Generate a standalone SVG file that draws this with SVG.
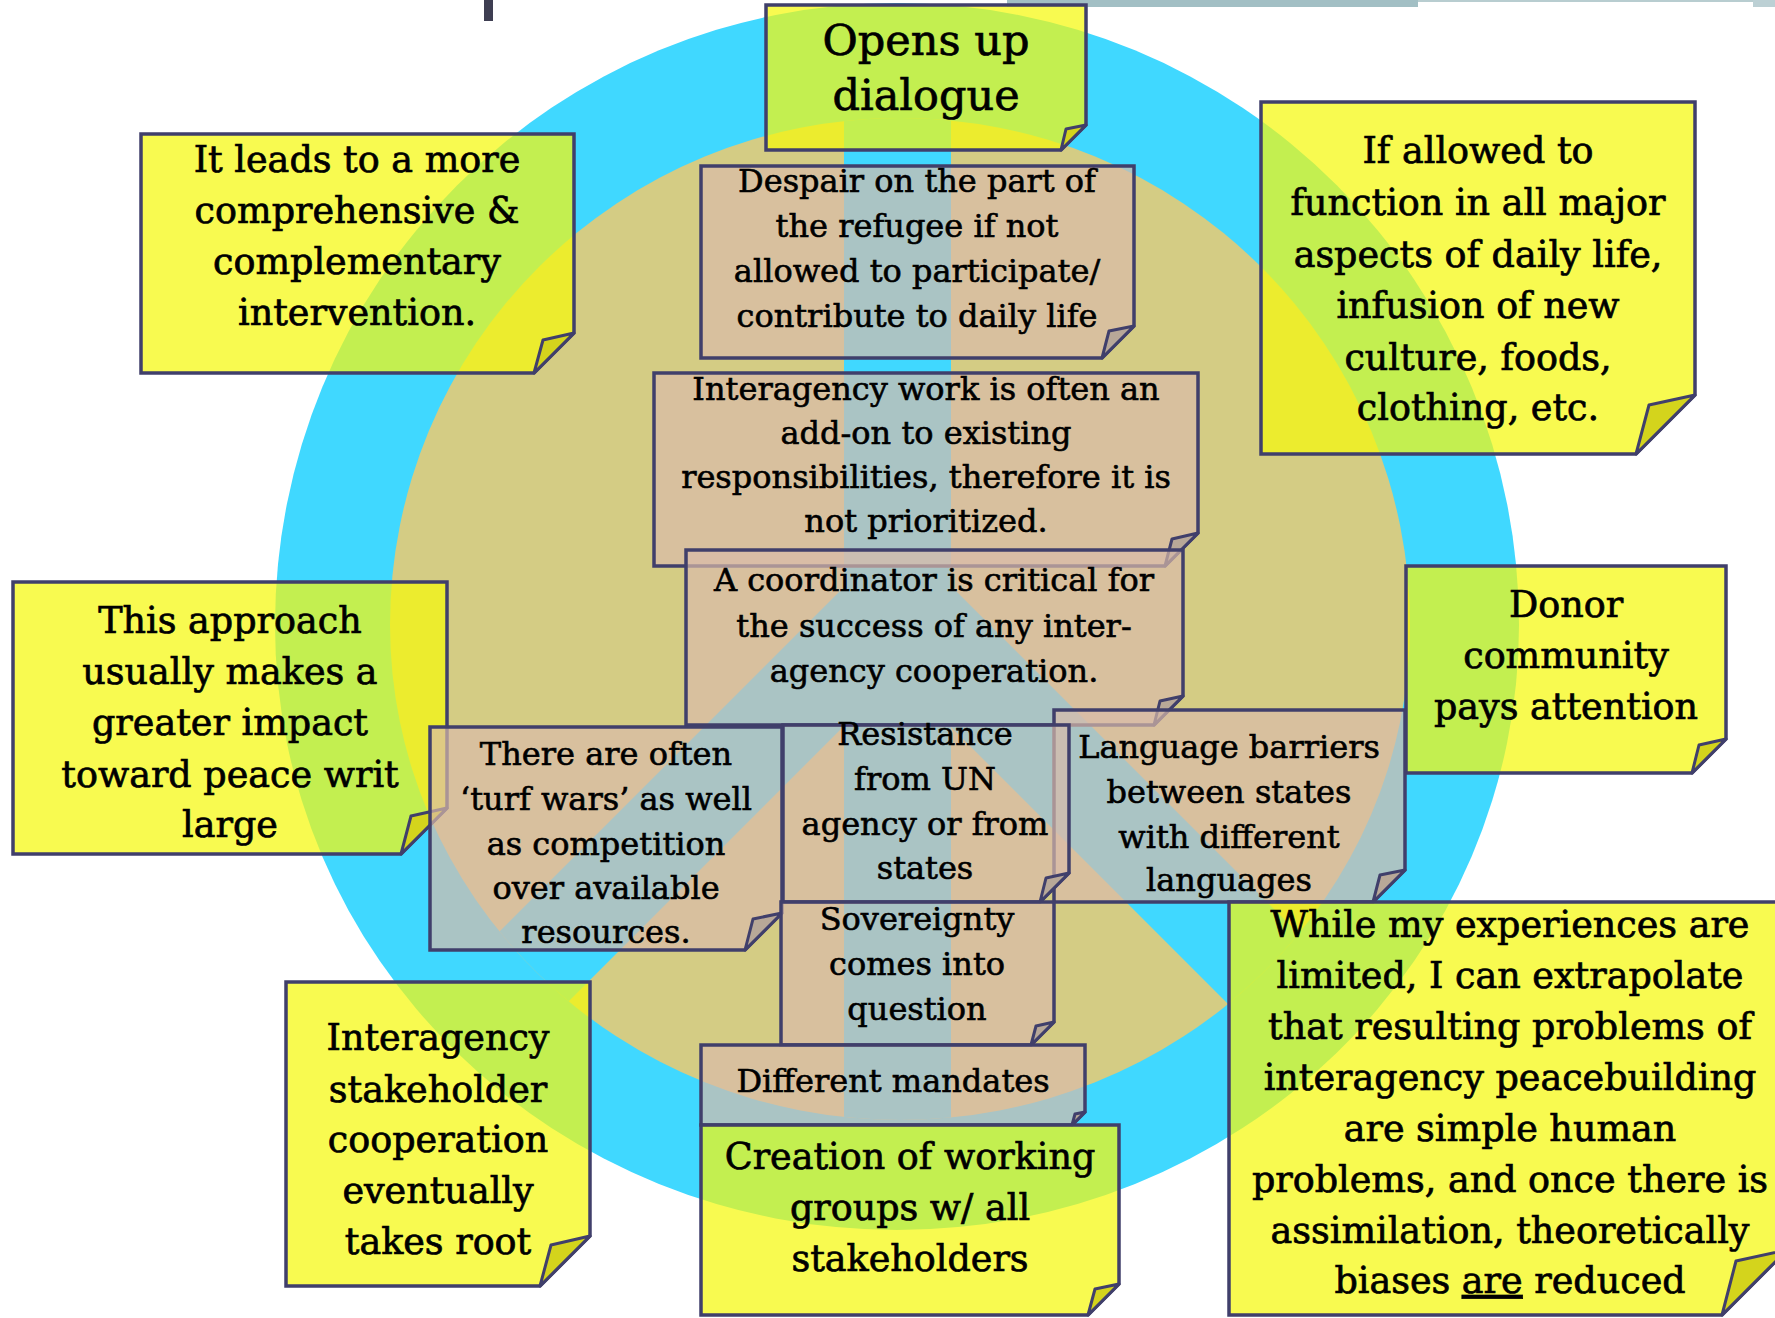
<svg xmlns="http://www.w3.org/2000/svg" width="1775" height="1318" viewBox="0 0 1775 1318">
<style>
.n{stroke:#403F6B;stroke-width:3.5;stroke-linejoin:miter}
.y{fill:#F5F80C;fill-opacity:0.72}
.t{fill:#DABBAA;fill-opacity:0.69}
.fy{fill:#D4D41C;stroke:#403F6B;stroke-width:3;stroke-linejoin:round}
.ft{fill:#B8A898;stroke:#403F6B;stroke-width:3;stroke-linejoin:round}
text{font-family:"DejaVu Serif","Liberation Serif",serif;text-anchor:middle;fill:#000;stroke:#000;stroke-width:0.7}
.ty{font-size:36.5px}
.ta{font-size:43px}
.tt{font-size:32px;stroke-width:0.6}
</style>
<defs>
<clipPath id="inner"><path d="M390 625 A510 507 0 0 1 1410 625 A510 495 0 0 1 390 625 Z"/></clipPath>
</defs>
<rect width="1775" height="1318" fill="#FFFFFF"/>
<g id="slide-top">
<rect x="484" y="0" width="9" height="21" fill="#3E3E52"/>
<rect x="1007" y="0" width="411" height="7" fill="#A2BFC4"/>
<rect x="1418" y="0" width="335" height="2" fill="#B8CDD0"/>
<rect x="1753" y="0" width="22" height="7" fill="#BCD0D4"/>
</g>
<g id="peace-symbol">
<path d="M275 625 A622 622 0 0 1 1519 625 A622 605 0 0 1 275 625 Z" fill="#40D8FF"/>
<path d="M390 625 A510 507 0 0 1 1410 625 A510 495 0 0 1 390 625 Z" fill="#D4CC84"/>
<g clip-path="url(#inner)" fill="#40D8FF">
<rect x="844" y="0" width="107" height="1318"/>
<polygon points="844,587 844,726 100,1470 100,1331"/>
<polygon points="951,586 951,727 1700,1476 1700,1335"/>
</g>
</g>
<g id="connectors"></g>
<g id="note-comprehensive">
<path class="n y" d="M141 134 H574 V333 L534 373 H141 Z"/>
<polygon class="fy" points="574,333 543,340 534,373"/>
<text class="ty"><tspan x="357" y="172">It leads to a more</tspan><tspan x="357" y="223">comprehensive &amp;</tspan><tspan x="357" y="274">complementary</tspan><tspan x="357" y="325">intervention.</tspan></text>
</g>
<g id="note-if-allowed">
<path class="n y" d="M1261 102 H1695 V395 L1636 454 H1261 Z"/>
<polygon class="fy" points="1695,395 1649,405 1636,454"/>
<text class="ty"><tspan x="1478" y="163">If allowed to</tspan><tspan x="1478" y="215">function in all major</tspan><tspan x="1478" y="267">aspects of daily life,</tspan><tspan x="1478" y="318">infusion of new</tspan><tspan x="1478" y="370">culture, foods,</tspan><tspan x="1478" y="420">clothing, etc.</tspan></text>
</g>
<g id="note-approach">
<path class="n y" d="M13 582 H447 V808 L401 854 H13 Z"/>
<polygon class="fy" points="447,808 411,816 401,854"/>
<text class="ty"><tspan x="230" y="633">This approach</tspan><tspan x="230" y="684">usually makes a</tspan><tspan x="230" y="735">greater impact</tspan><tspan x="230" y="787">toward peace writ</tspan><tspan x="230" y="837">large</tspan></text>
</g>
<g id="note-donor">
<path class="n y" d="M1406 566 H1726 V739 L1692 773 H1406 Z"/>
<polygon class="fy" points="1726,739 1699,745 1692,773"/>
<text class="ty"><tspan x="1566" y="617">Donor</tspan><tspan x="1566" y="668">community</tspan><tspan x="1566" y="719">pays attention</tspan></text>
</g>
<g id="note-takes-root">
<path class="n y" d="M286 982 H590 V1236 L540 1286 H286 Z"/>
<polygon class="fy" points="590,1236 551,1245 540,1286"/>
<text class="ty"><tspan x="438" y="1050">Interagency</tspan><tspan x="438" y="1102">stakeholder</tspan><tspan x="438" y="1152">cooperation</tspan><tspan x="438" y="1203">eventually</tspan><tspan x="438" y="1254">takes root</tspan></text>
</g>
<g id="note-dialogue">
<path class="n y" d="M766 5 H1086 V125 L1061 150 H766 Z"/>
<polygon class="fy" points="1086,125 1066,129 1061,150"/>
<text class="ta"><tspan x="926" y="55">Opens up</tspan><tspan x="926" y="110">dialogue</tspan></text>
</g>
<g id="note-despair">
<path class="n t" d="M701 166 H1134 V326 L1102 358 H701 Z"/>
<polygon class="ft" points="1134,326 1109,331 1102,358"/>
<text class="tt"><tspan x="917" y="192">Despair on the part of</tspan><tspan x="917" y="237">the refugee if not</tspan><tspan x="917" y="282">allowed to participate/</tspan><tspan x="917" y="327">contribute to daily life</tspan></text>
</g>
<g id="note-add-on">
<path class="n t" d="M654 373 H1198 V533 L1165 566 H654 Z"/>
<polygon class="ft" points="1198,533 1172,539 1165,566"/>
<text class="tt"><tspan x="926" y="400">Interagency work is often an</tspan><tspan x="926" y="444">add-on to existing</tspan><tspan x="926" y="488">responsibilities, therefore it is</tspan><tspan x="926" y="532">not prioritized.</tspan></text>
</g>
<g id="note-coordinator">
<path class="n t" d="M686 550 H1183 V696 L1154 725 H686 Z"/>
<polygon class="ft" points="1183,696 1160,701 1154,725"/>
<text class="tt"><tspan x="934" y="591">A coordinator is critical for</tspan><tspan x="934" y="637">the success of any inter-</tspan><tspan x="934" y="682">agency cooperation.</tspan></text>
</g>
<g id="note-language">
<path class="n t" d="M1054 710 H1405 V870 L1373 902 H1054 Z"/>
<polygon class="ft" points="1405,870 1380,875 1373,902"/>
<text class="tt"><tspan x="1229" y="758">Language barriers</tspan><tspan x="1229" y="803">between states</tspan><tspan x="1229" y="848">with different</tspan><tspan x="1229" y="891">languages</tspan></text>
</g>
<g id="note-resistance">
<path class="n t" d="M783 725 H1069 V873 L1040 902 H783 Z"/>
<polygon class="ft" points="1069,873 1046,878 1040,902"/>
<text class="tt"><tspan x="925" y="745">Resistance</tspan><tspan x="925" y="790">from UN</tspan><tspan x="925" y="835">agency or from</tspan><tspan x="925" y="879">states</tspan></text>
</g>
<g id="note-turf-wars">
<path class="n t" d="M430 727 H782 V913 L745 950 H430 Z"/>
<polygon class="ft" points="782,913 753,919 745,950"/>
<text class="tt"><tspan x="606" y="765">There are often</tspan><tspan x="606" y="810">&#8216;turf wars&#8217; as well</tspan><tspan x="606" y="855">as competition</tspan><tspan x="606" y="899">over available</tspan><tspan x="606" y="943">resources.</tspan></text>
</g>
<g id="note-sovereignty">
<path class="n t" d="M781 902 H1054 V1022 L1031 1045 H781 Z"/>
<polygon class="ft" points="1054,1022 1036,1026 1031,1045"/>
<text class="tt"><tspan x="917" y="930">Sovereignty</tspan><tspan x="917" y="975">comes into</tspan><tspan x="917" y="1020">question</tspan></text>
</g>
<g id="note-mandates">
<path class="n t" d="M701 1045 H1085 V1112 L1072 1125 H701 Z"/>
<polygon class="ft" points="1085,1112 1075,1114 1072,1125"/>
<text class="tt"><tspan x="893" y="1092">Different mandates</tspan></text>
</g>
<g id="note-working-groups">
<path class="n y" d="M701 1125 H1119 V1284 L1088 1315 H701 Z"/>
<polygon class="fy" points="1119,1284 1095,1289 1088,1315"/>
<text class="ty"><tspan x="910" y="1169">Creation of working</tspan><tspan x="910" y="1220">groups w/ all</tspan><tspan x="910" y="1271">stakeholders</tspan></text>
</g>
<g id="note-experiences">
<path class="n y" d="M1229 902 H1787 V1250 L1722 1315 H1229 Z"/>
<polygon class="fy" points="1787,1250 1736,1261 1722,1315"/>
<text class="ty"><tspan x="1510" y="937">While my experiences are</tspan><tspan x="1510" y="988">limited, I can extrapolate</tspan><tspan x="1510" y="1039">that resulting problems of</tspan><tspan x="1510" y="1090">interagency peacebuilding</tspan><tspan x="1510" y="1141">are simple human</tspan><tspan x="1510" y="1192">problems, and once there is</tspan><tspan x="1510" y="1243">assimilation, theoretically</tspan><tspan x="1510" y="1293">biases <tspan text-decoration="underline">are</tspan> reduced</tspan></text>
</g>
</svg>
